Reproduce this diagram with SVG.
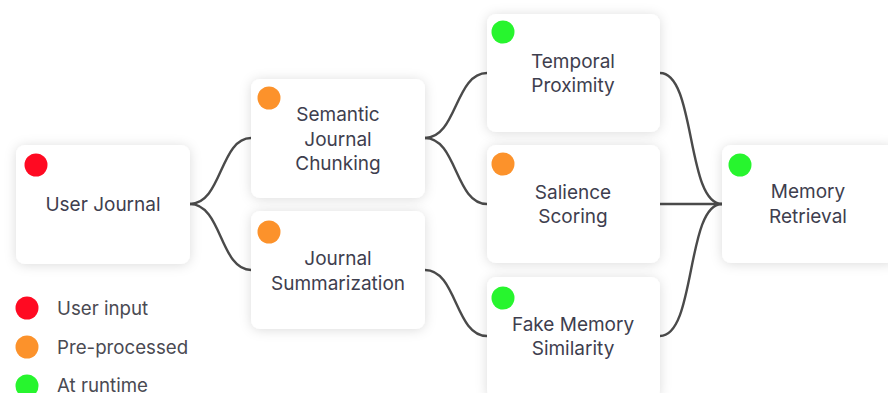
<svg xmlns="http://www.w3.org/2000/svg" width="888" height="393" viewBox="0 0 888 393">
  <style>
    .card { fill: #ffffff; filter: url(#shadow); }
    .label { font-family: Inter, "Noto Sans", "Liberation Sans", sans-serif; font-size: 19px; fill: #3e3e4e; text-anchor: middle; }
    .legend { font-family: Inter, "Noto Sans", "Liberation Sans", sans-serif; font-size: 18.7px; fill: #4a4a52; }
    .link { fill: none; stroke: #4a4a4a; stroke-width: 2.4; stroke-linecap: round; }
    .red { fill: #ff0a22; }
    .orange { fill: #fc922b; }
    .green { fill: #27f52e; }
  </style>
  <defs>
    <filter id="shadow" x="-20%" y="-20%" width="140%" height="140%">
      <feDropShadow dx="0" dy="1" stdDeviation="6" flood-color="#000000" flood-opacity="0.14"/>
    </filter>
  </defs>

  <rect width="888" height="393" fill="#ffffff"/>

  <!-- connectors -->
  <g id="connectors">
    <path class="link" d="M190,204 C222,204 220,138 251,138"/>
    <path class="link" d="M190,204 C222,204 220,270 251,270"/>
    <path class="link" d="M425,138 C457,138 455,73 487,73"/>
    <path class="link" d="M425,138 C457,138 455,204 487,204"/>
    <path class="link" d="M425,270 C457,270 455,336 487,336"/>
    <path class="link" d="M660,73 C696,73 686,204 722,204"/>
    <path class="link" d="M660,204 L722,204"/>
    <path class="link" d="M660,336 C696,336 686,204 722,204"/>
  </g>

  <!-- nodes -->
  <g id="user-journal">
    <rect class="card" x="16" y="145" width="174" height="119" rx="9"/>
    <circle class="red" cx="36" cy="165" r="11.5"/>
    <text class="label" x="103" y="211">User Journal</text>
  </g>

  <g id="semantic-chunking">
    <rect class="card" x="251" y="79" width="174" height="119" rx="9"/>
    <circle class="orange" cx="269" cy="98" r="11.5"/>
    <text class="label" x="338" y="121">Semantic</text>
    <text class="label" x="338" y="146">Journal</text>
    <text class="label" x="338" y="170">Chunking</text>
  </g>

  <g id="journal-summarization">
    <rect class="card" x="251" y="211" width="174" height="118" rx="9"/>
    <circle class="orange" cx="269" cy="232" r="11.5"/>
    <text class="label" x="338" y="265">Journal</text>
    <text class="label" x="338" y="290">Summarization</text>
  </g>

  <g id="temporal-proximity">
    <rect class="card" x="487" y="14" width="173" height="118" rx="9"/>
    <circle class="green" cx="503" cy="32" r="11.5"/>
    <text class="label" x="573" y="68">Temporal</text>
    <text class="label" x="573" y="92">Proximity</text>
  </g>

  <g id="salience-scoring">
    <rect class="card" x="487" y="145" width="173" height="118" rx="9"/>
    <circle class="orange" cx="503" cy="164" r="11.5"/>
    <text class="label" x="573" y="199">Salience</text>
    <text class="label" x="573" y="223">Scoring</text>
  </g>

  <g id="fake-memory-similarity">
    <rect class="card" x="487" y="277" width="173" height="122" rx="9"/>
    <circle class="green" cx="503" cy="298" r="11.5"/>
    <text class="label" x="573" y="331">Fake Memory</text>
    <text class="label" x="573" y="355">Similarity</text>
  </g>

  <g id="memory-retrieval">
    <rect class="card" x="722" y="145" width="174" height="118" rx="9"/>
    <circle class="green" cx="740" cy="165" r="11.5"/>
    <text class="label" x="808" y="198">Memory</text>
    <text class="label" x="808" y="223">Retrieval</text>
  </g>

  <!-- legend -->
  <g id="legend">
    <circle class="red" cx="27" cy="308" r="11.5"/>
    <text class="legend" x="57" y="315">User input</text>
    <circle class="orange" cx="27" cy="347" r="11.5"/>
    <text class="legend" x="57" y="354">Pre-processed</text>
    <circle class="green" cx="27" cy="386" r="11.5"/>
    <text class="legend" x="57" y="392">At runtime</text>
  </g>
</svg>
